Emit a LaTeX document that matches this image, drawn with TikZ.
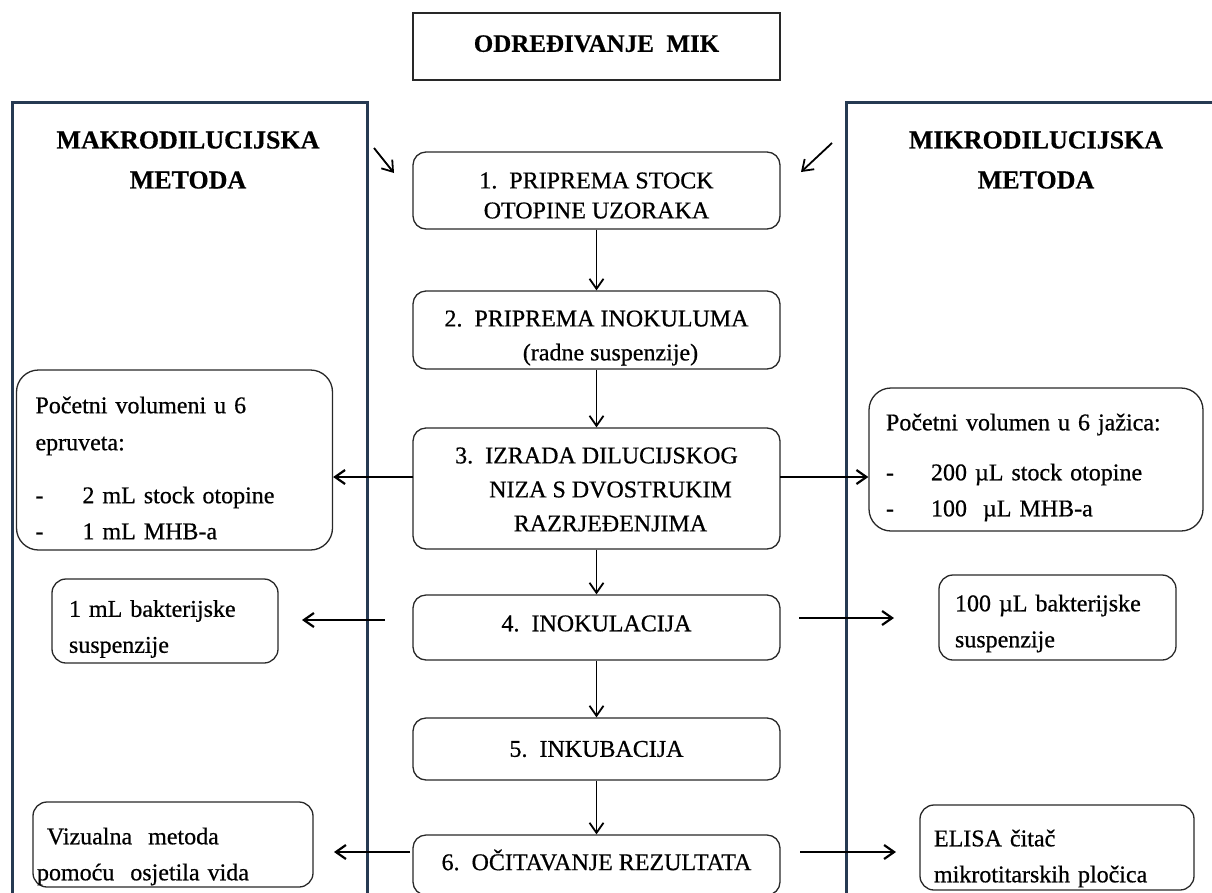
\documentclass[tikz,border=0pt]{standalone}
\usepackage{fontspec}
\setmainfont{Liberation Serif}[UprightFeatures={FakeBold=0.6},BoldFeatures={FakeBold=0.4}]
\usetikzlibrary{arrows.meta}
\definecolor{framec}{RGB}{38,58,82}
\definecolor{boxc}{RGB}{40,40,40}
\newcommand\mfs{\fontsize{24}{34}\selectfont}
\newcommand\sfs{\fontsize{24}{36}\selectfont}
\newcommand\lfs{\fontsize{26}{40}\selectfont\bfseries}
\newcommand\dashitem[2]{\makebox[#1][l]{-}#2}
\tikzset{
  frame/.style={draw=framec, line width=3pt},
  stepbox/.style={draw=boxc, line width=1.3pt, rounded corners=13pt, minimum width=367pt, inner sep=0pt},
  steptext/.style={align=center, font=\mfs, inner sep=0pt},
  sidebox/.style={draw=boxc, line width=1.3pt, rounded corners=14pt, inner sep=0pt},
  sidetext/.style={align=left, font=\sfs, inner sep=0pt},
  titlebox/.style={draw=boxc, line width=1.3pt, minimum width=367pt, minimum height=67pt, font=\fontsize{25}{34}\selectfont\bfseries, inner sep=0pt},
  sidelabel/.style={align=center, font=\lfs, inner sep=0pt},
  arr/.style={-{Straight Barb[length=10pt,width=14pt]}, line width=1.8pt},
  harr/.style={arr, line width=2.2pt}
}
\begin{document}
\begin{tikzpicture}[x=1pt,y=-1pt]
\useasboundingbox (0,0) rectangle (1212,892);
\fill[white] (0,0) rectangle (1212,892);
% method frames
\draw[frame] (12,910) -- (12,102) -- (367,102) -- (367,910);
\draw[frame] (846,910) -- (846,102) -- (1230,102);
\node[sidelabel] (makro) at (188,160) {MAKRODILUCIJSKA\\METODA};
\node[sidelabel] (mikro) at (1036,160) {MIKRODILUCIJSKA\\METODA};
% title
\node[titlebox, text depth=6pt] (title) at (596.5,46.5) {ODREĐIVANJE\ \ MIK};
% central steps
\node[stepbox, minimum height=77pt] (s1) at (596.5,190.5) {};
\node[stepbox, minimum height=78pt] (s2) at (596.5,330) {};
\node[stepbox, minimum height=121pt] (s3) at (596.5,488.5) {};
\node[stepbox, minimum height=65pt] (s4) at (596.5,627.5) {};
\node[stepbox, minimum height=62pt] (s5) at (596.5,749) {};
\node[stepbox, minimum height=60pt] (s6) at (596.5,865) {};
\node[steptext] (s1t) at ([yshift=-5pt]s1.center) {1.\ \ PRIPREMA STOCK\\[-4pt]OTOPINE UZORAKA};
\node[steptext] (s2t) at ([yshift=-8pt]s2.center) {2.\ \ PRIPREMA INOKULUMA\\\hspace*{28pt}(radne suspenzije)};
\node[steptext] (s3t) at ([yshift=-1pt]s3.center) {3.\ \ IZRADA DILUCIJSKOG\\\hspace*{28pt}NIZA S DVOSTRUKIM\\\hspace*{28pt}RAZRJEĐENJIMA};
\node[steptext] (s4t) at ([yshift=4pt]s4.center) {4.\ \ INOKULACIJA};
\node[steptext] (s5t) at (s5.center) {5.\ \ INKUBACIJA};
\node[steptext] (s6t) at ([yshift=5pt]s6.center) {6.\ \ OČITAVANJE REZULTATA};
% side boxes
\node[sidebox, minimum width=316pt, minimum height=180pt, rounded corners=22pt] (l3) at (174.5,460) {};
\node[sidebox, minimum width=334pt, minimum height=143pt, rounded corners=22pt] (r3) at (1036,459.5) {};
\node[sidebox, minimum width=226pt, minimum height=84pt] (l4) at (165,621) {};
\node[sidebox, minimum width=237pt, minimum height=85pt] (r4) at (1057.5,617.5) {};
\node[sidebox, minimum width=280pt, minimum height=85pt] (l6) at (173,844.5) {};
\node[sidebox, minimum width=274pt, minimum height=85pt] (r6) at (1057,847.5) {};
\node[sidetext, text width=278pt] (l3t) at ([yshift=-8pt]l3.center)
  {\fontsize{24}{37}\selectfont Početni volumeni u 6\\epruveta:\\[16pt]\dashitem{47pt}{2 mL stock otopine}\\\dashitem{47pt}{1 mL MHB-a}};
\node[sidetext, text width=300pt] (r3t) at ([yshift=-8pt]r3.center)
  {Početni volumen u 6 jažica:\\[14pt]\dashitem{45pt}{200 µL stock otopine}\\\dashitem{45pt}{100\ \ µL MHB-a}};
\node[sidetext, text width=192pt] (l4t) at ([yshift=-8pt]l4.center)
  {\fontsize{24}{37}\selectfont 1 mL bakterijske\\suspenzije};
\node[sidetext, text width=205pt] (r4t) at ([yshift=-6pt]r4.center)
  {\fontsize{24}{37}\selectfont 100 µL bakterijske\\suspenzije};
\node[sidetext, text width=252pt] (l6t) at ([yshift=-12pt]l6.center)
  {\fontsize{24}{33}\selectfont Vizualna\ \ metoda\\\hspace*{-10pt}pomoću\ \ osjetila vida};
\node[sidetext, text width=246pt] (r6t) at ([yshift=-11pt]r6.center)
  {\fontsize{24}{33}\selectfont ELISA čitač\\mikrotitarskih pločica};
% free arrow ends
\coordinate (dl0) at (374,148); \coordinate (dl1) at (394,173);
\coordinate (dr0) at (832,143); \coordinate (dr1) at (801,172);
\coordinate (a3l) at (413,477); \coordinate (a3r) at (780,477);
\coordinate (a4l0) at (385,620); \coordinate (a4l1) at (302,620);
\coordinate (a4r0) at (799,618); \coordinate (a4r1) at (894,618);
\coordinate (a6l0) at (410,852); \coordinate (a6l1) at (334,852);
\coordinate (a6r0) at (800,852); \coordinate (a6r1) at (896,852);
% connectors
\draw[arr] (s1.south) -- (s2.north);
\draw[arr] (s2.south) -- (s3.north);
\draw[arr] (s3.south) -- (s4.north);
\draw[arr] (s4.south) -- (s5.north);
\draw[arr] (s5.south) -- (s6.north);
\draw[arr] (dl0) -- (dl1);
\draw[arr] (dr0) -- (dr1);
\draw[harr] (a3l) -- (a3l -| l3.east);
\draw[harr] (a3r) -- (a3r -| r3.west);
\draw[harr] (a4l0) -- (a4l1);
\draw[harr] (a4r0) -- (a4r1);
\draw[harr] (a6l0) -- (a6l1);
\draw[harr] (a6r0) -- (a6r1);
\end{tikzpicture}
\end{document}
